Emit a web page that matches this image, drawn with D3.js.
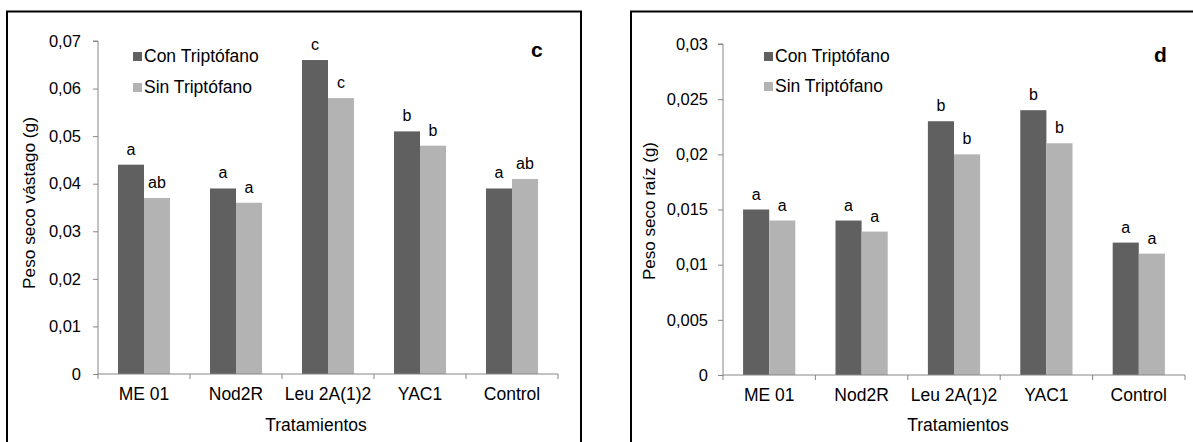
<!DOCTYPE html>
<html><head><meta charset="utf-8">
<script src="https://cdn.jsdelivr.net/npm/d3@7"></script>
<style>body{margin:0;background:#fff}svg{display:block;font-family:"Liberation Sans",Arial,sans-serif}</style>
</head><body>
<svg id="c" width="1193" height="442"></svg>
<script>
const categories = ["ME 01","Nod2R","Leu 2A(1)2","YAC1","Control"];
const seriesNames = ["Con Triptófano","Sin Triptófano"];
const vastagoCon = [0.044,0.039,0.066,0.051,0.039];
const vastagoSin = [0.037,0.036,0.058,0.048,0.041];
const vastagoLetCon = ["a","a","c","b","a"];
const vastagoLetSin = ["ab","a","c","b","ab"];
const raizCon = [0.015,0.014,0.023,0.024,0.012];
const raizSin = [0.014,0.013,0.020,0.021,0.011];
const raizLetCon = ["a","a","b","b","a"];
const raizLetSin = ["a","a","b","b","a"];
const vastagoTicks = [0,0.01,0.02,0.03,0.04,0.05,0.06,0.07];
const raizTicks = [0,0.005,0.01,0.015,0.02,0.025,0.03];
const colors = ["#606060","#b3b3b3"];

const svg = d3.select("#c");
const fmt = v => v===0 ? "0" : String(+v.toFixed(3)).replace(".",",");

function panel(o){
  const g = svg.append("g");
  g.append("rect").attr("x",o.bx).attr("y",11.5).attr("width",o.bw).attr("height",460)
    .attr("fill","none").attr("stroke","#000").attr("stroke-width",2);
  const x0 = d3.scaleBand().domain(categories).range([o.x0,o.x1]).paddingInner(0.4348).paddingOuter(0.2174);
  const x1 = d3.scaleBand().domain([0,1]).range([0,x0.bandwidth()]);
  const y = d3.scaleLinear().domain([0,o.max]).range([o.y0,o.yTop]);
  [o.con,o.sin].forEach((vals,si)=>{
    g.selectAll(null).data(vals).enter().append("rect")
      .attr("x",(d,i)=>x0(categories[i])+x1(si)).attr("width",x1.bandwidth())
      .attr("y",d=>y(d)).attr("height",d=>y(0)-y(d)).attr("fill",colors[si]);
    const lets = si===0?o.lcon:o.lsin;
    g.selectAll(null).data(vals).enter().append("text")
      .attr("x",(d,i)=>x0(categories[i])+x1(si)+x1.bandwidth()/2).attr("y",d=>y(d)-10)
      .attr("text-anchor","middle").attr("font-size",16).attr("fill","#000").text((d,i)=>lets[i]);
  });
  const ya = g.append("g").attr("transform",`translate(${o.x0},0)`)
    .call(d3.axisLeft(y).tickValues(o.ticks).tickSize(5).tickPadding(o.tp).tickFormat(fmt));
  ya.select(".domain").attr("stroke","#868686").attr("d",`M-5,${o.yTop}H0V${o.y0}`);
  ya.selectAll(".tick line").attr("stroke","#868686");
  ya.selectAll("text").attr("font-size",16.5).attr("fill","#000").attr("font-family",null);
  const xa = g.append("g").attr("transform",`translate(0,${o.y0})`);
  xa.append("line").attr("x1",o.x0).attr("x2",o.x1).attr("stroke","#868686");
  const bounds = categories.map(c=>x0(c)-x0.step()*0.2174).concat([o.x1]);
  xa.selectAll(null).data(bounds).enter().append("line")
    .attr("x1",d=>d).attr("x2",d=>d).attr("y1",0).attr("y2",5).attr("stroke","#868686");
  xa.selectAll(null).data(categories).enter().append("text")
    .attr("x",d=>x0(d)+x0.bandwidth()/2).attr("y",26).attr("text-anchor","middle")
    .attr("font-size",17.5).text(d=>d);
  g.append("text").attr("x",o.ttx).attr("y",431).attr("text-anchor","middle")
    .attr("font-size",17.5).text("Tratamientos");
  g.append("text").attr("transform",`translate(${o.tx},${o.ty}) rotate(-90)`).attr("text-anchor","middle")
    .attr("font-size",16).attr("textLength",o.tl).attr("lengthAdjust","spacingAndGlyphs").text(o.title);
  seriesNames.forEach((s,i)=>{
    g.append("rect").attr("x",o.lx).attr("y",o.ly+i*o.lstep).attr("width",9).attr("height",9).attr("fill",colors[i]);
    g.append("text").attr("x",o.lx+11).attr("y",o.ly+i*o.lstep+10).attr("font-size",17.5).text(s);
  });
  g.append("text").attr("x",o.px).attr("y",o.py).attr("font-size",21).attr("font-weight","bold").text(o.plabel);
}

panel({bx:7,bw:574,x0:98,x1:558,y0:374,yTop:41,max:0.07,ticks:vastagoTicks,con:vastagoCon,sin:vastagoSin,
  lcon:vastagoLetCon,lsin:vastagoLetSin,tp:12,title:"Peso seco vástago (g)",tx:35,ty:203,tl:172,ttx:316,
  lx:133,ly:52,lstep:31,px:531,py:57,plabel:"c"});
panel({bx:631,bw:600,x0:723,x1:1185,y0:375,yTop:44,max:0.03,ticks:raizTicks,con:raizCon,sin:raizSin,
  lcon:raizLetCon,lsin:raizLetSin,tp:10,title:"Peso seco raíz (g)",tx:655,ty:211,tl:138,ttx:958,
  lx:764,ly:52,lstep:30,px:1154,py:62,plabel:"d"});
</script>
</body></html>
